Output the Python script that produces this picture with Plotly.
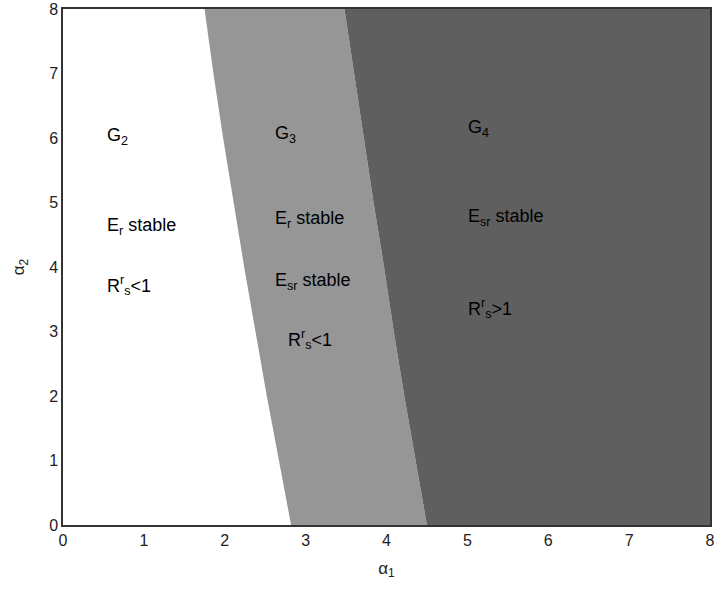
import plotly.graph_objects as go

# Boundary curves (alpha2 -> alpha1)
a2_pts = [0, 1, 2, 3, 4, 5, 6, 7, 8]
left_a1 = [2.82, 2.67, 2.52, 2.38, 2.24, 2.11, 1.98, 1.86, 1.75]
right_a1 = [4.50, 4.36, 4.22, 4.09, 3.97, 3.84, 3.72, 3.60, 3.48]

tick_vals = [0, 1, 2, 3, 4, 5, 6, 7, 8]
tick_text = ["0", "1", "2", "3", "4", "5", "6", "7", "8"]

labels = [
    (0.52, 6.03, "G<sub>2</sub>"),
    (0.52, 4.63, "E<sub>r</sub> stable"),
    (0.52, 3.71, "R<sup>r</sup><sub>s</sub><1"),
    (2.60, 6.06, "G<sub>3</sub>"),
    (2.60, 4.74, "E<sub>r</sub> stable"),
    (2.60, 3.78, "E<sub>sr</sub> stable"),
    (2.76, 2.87, "R<sup>r</sup><sub>s</sub><1"),
    (4.98, 6.15, "G<sub>4</sub>"),
    (4.98, 4.76, "E<sub>sr</sub> stable"),
    (4.98, 3.35, "R<sup>r</sup><sub>s</sub>>1"),
]

light = "#969696"
dark = "#5f5f5f"

fig = go.Figure()
fig.add_trace(go.Scatter(
    x=left_a1 + right_a1[::-1], y=a2_pts + a2_pts[::-1],
    fill="toself", fillcolor=light, line=dict(width=0), mode="lines",
    hoverinfo="skip", showlegend=False))
fig.add_trace(go.Scatter(
    x=right_a1 + [8, 8], y=a2_pts + [8, 0],
    fill="toself", fillcolor=dark, line=dict(width=0), mode="lines",
    hoverinfo="skip", showlegend=False))

for x, y, t in labels:
    fig.add_annotation(x=x, y=y, text=t, showarrow=False, xanchor="left",
                       yanchor="middle", font=dict(size=18, color="black"))

axis_common = dict(range=[0, 8], tickmode="array", tickvals=tick_vals,
                   ticktext=tick_text, showgrid=False, zeroline=False,
                   showline=True, linecolor="#333333", linewidth=1.5,
                   mirror=True, ticks="", tickfont=dict(size=16, color="#222"),
                   ticklabeloverflow="allow", fixedrange=True)
fig.update_xaxes(**axis_common, title=dict(text="α<sub>1</sub>", font=dict(size=17, color="#222"), standoff=14))
fig.update_yaxes(**axis_common, title=dict(text="α<sub>2</sub>", font=dict(size=17, color="#222"), standoff=20))

fig.update_layout(
    width=716, height=591,
    margin=dict(l=63, r=1, t=8, b=66),
    paper_bgcolor="white", plot_bgcolor="white",
    font=dict(family="Liberation Sans, Arial, sans-serif"),
)
fig.write_html("out.html")
